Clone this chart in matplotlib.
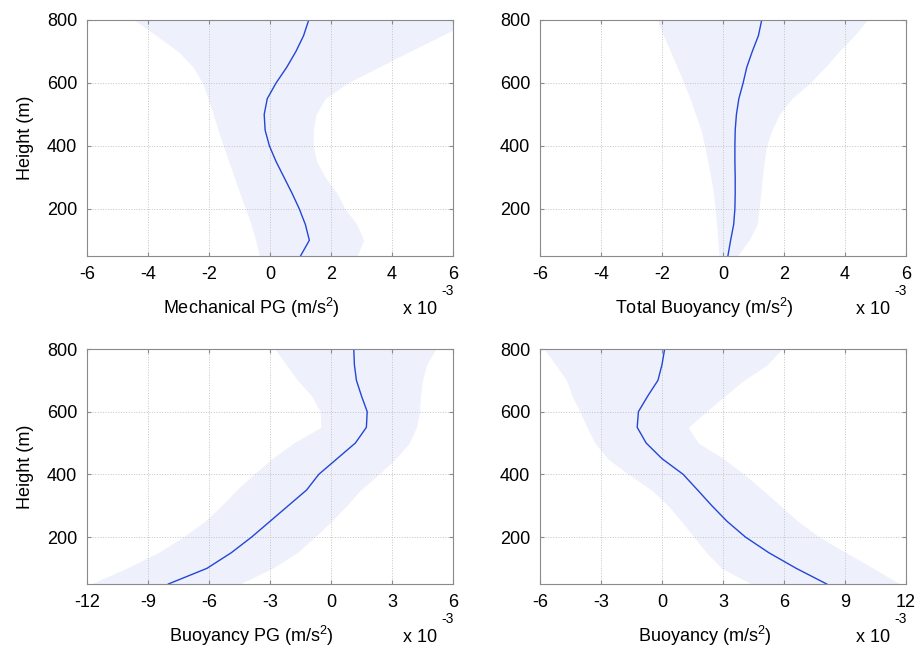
import matplotlib
matplotlib.use("Agg")
import matplotlib.pyplot as plt
import numpy as np

plt.rcParams["font.family"] = ["Liberation Sans", "DejaVu Sans"]
plt.rcParams["mathtext.fontset"] = "custom"
plt.rcParams["mathtext.rm"] = "Liberation Sans"
plt.rcParams["mathtext.default"] = "regular"

# heights (m), bottom to top
height = [50, 100, 150, 200, 250, 300, 350, 400, 450, 500, 550, 600, 650, 700, 750, 800]

# all values in units of 1e-3 m/s^2
mech_mean = [1.0, 1.29, 1.16, 0.96, 0.72, 0.46, 0.20, -0.02, -0.16, -0.19, -0.09, 0.20, 0.55, 0.85, 1.10, 1.27]
mech_lo = [-0.35, -0.47, -0.62, -0.80, -0.99, -1.17, -1.35, -1.53, -1.70, -1.86, -2.03, -2.21, -2.52, -3.01, -3.72, -4.44]
mech_hi = [2.85, 3.07, 2.85, 2.46, 2.19, 1.81, 1.53, 1.42, 1.42, 1.51, 1.81, 2.54, 3.56, 4.58, 5.62, 6.64]

tb_mean = [0.16, 0.25, 0.35, 0.39, 0.40, 0.40, 0.39, 0.39, 0.40, 0.44, 0.52, 0.66, 0.78, 0.96, 1.16, 1.27]
tb_lo = [-0.13, -0.17, -0.21, -0.26, -0.31, -0.40, -0.50, -0.60, -0.72, -0.90, -1.08, -1.28, -1.50, -1.72, -1.95, -2.15]
tb_hi = [0.47, 0.85, 1.12, 1.18, 1.24, 1.29, 1.35, 1.43, 1.60, 1.85, 2.25, 2.85, 3.35, 3.80, 4.30, 4.73]

bpg_mean = [-8.0, -6.1, -4.9, -3.9, -3.0, -2.1, -1.2, -0.6, 0.3, 1.2, 1.74, 1.78, 1.5, 1.25, 1.15, 1.12]
bpg_lo = [-11.8, -10.06, -8.5, -7.27, -6.2, -5.38, -4.64, -3.8, -2.9, -1.84, -0.5, -0.53, -0.95, -1.64, -2.2, -2.75]
bpg_hi = [-4.5, -2.88, -1.66, -0.8, 0.03, 0.76, 1.45, 2.35, 3.17, 3.85, 4.2, 4.35, 4.4, 4.5, 4.7, 5.15]

buoy_mean = [8.1, 6.6, 5.25, 4.1, 3.2, 2.45, 1.75, 1.04, 0.0, -0.78, -1.22, -1.16, -0.7, -0.2, 0.0, 0.13]
buoy_lo = [4.4, 2.94, 2.19, 1.57, 0.96, 0.30, -0.51, -1.65, -2.67, -3.3, -3.69, -4.03, -4.42, -4.69, -5.23, -5.8]
buoy_hi = [11.7, 10.4, 9.05, 7.73, 6.69, 5.82, 4.95, 4.04, 3.02, 1.78, 1.29, 2.18, 3.09, 4.02, 5.18, 5.9]

xticks_a = [-6, -4, -2, 0, 2, 4, 6]
xticks_bpg = [-12, -9, -6, -3, 0, 3, 6]
xticks_buoy = [-6, -3, 0, 3, 6, 9, 12]
yticks = [200, 400, 600, 800]

W, H = 919, 649
fig = plt.figure(figsize=(W / 100, H / 100), dpi=100)

line_color = "#2346d6"
band_color = "#eef0fc"
spine_color = "#8a8a8a"
fs = 13


def px_axes(left, top, right, bottom):
    return fig.add_axes([left / W, 1 - bottom / H, (right - left) / W, (bottom - top) / H])


def panel(ax, mean, lo, hi, xticks, xlabel, ylabel):
    ax.fill_betweenx(height, lo, hi, color=band_color, lw=0, zorder=1)
    ax.plot(mean, height, color=line_color, lw=1.0, zorder=3)
    ax.set_xlim(xticks[0], xticks[-1])
    ax.set_ylim(50, 800)
    ax.set_xticks(xticks)
    ax.set_xticklabels([str(t) for t in xticks])
    ax.set_yticks(yticks)
    ax.set_yticklabels([str(t) for t in yticks])
    ax.grid(True, color="#c4c4c4", linestyle=":", linewidth=0.7, zorder=2)
    ax.set_axisbelow(False)
    for s in ax.spines.values():
        s.set_color(spine_color)
        s.set_linewidth(0.8)
        s.set_zorder(4)
    ax.tick_params(direction="in", length=3, color=spine_color, labelsize=fs,
                   pad=7, top=True, right=True)
    if ylabel:
        ax.set_ylabel(ylabel, fontsize=fs, labelpad=9)
    # xlabel and MATLAB-style exponent, placed in pixels below the axes
    tr = ax.transAxes + matplotlib.transforms.ScaledTranslation(0, -58 / 100, fig.dpi_scale_trans)
    ax.text(0.45, 0, xlabel, transform=tr, fontsize=fs, ha="center", va="baseline")
    ax.text(0.91, 0, "x 10", transform=tr, fontsize=fs, ha="center", va="baseline")
    tr2 = ax.transAxes + matplotlib.transforms.ScaledTranslation(0, -35 / 100, fig.dpi_scale_trans)
    ax.text(0.985, 0, "-3", transform=tr2, fontsize=10, ha="center", va="center")


ax1 = px_axes(87, 20, 453, 256)
ax2 = px_axes(540, 20, 906, 256)
ax3 = px_axes(87, 349, 453, 584)
ax4 = px_axes(540, 349, 906, 584)

panel(ax1, mech_mean, mech_lo, mech_hi, xticks_a, r"Mechanical PG (m/s$^2$)", "Height (m)")
panel(ax2, tb_mean, tb_lo, tb_hi, xticks_a, r"Total Buoyancy (m/s$^2$)", None)
panel(ax3, bpg_mean, bpg_lo, bpg_hi, xticks_bpg, r"Buoyancy PG (m/s$^2$)", "Height (m)")
panel(ax4, buoy_mean, buoy_lo, buoy_hi, xticks_buoy, r"Buoyancy (m/s$^2$)", None)

fig.savefig("out.png", dpi=100)
